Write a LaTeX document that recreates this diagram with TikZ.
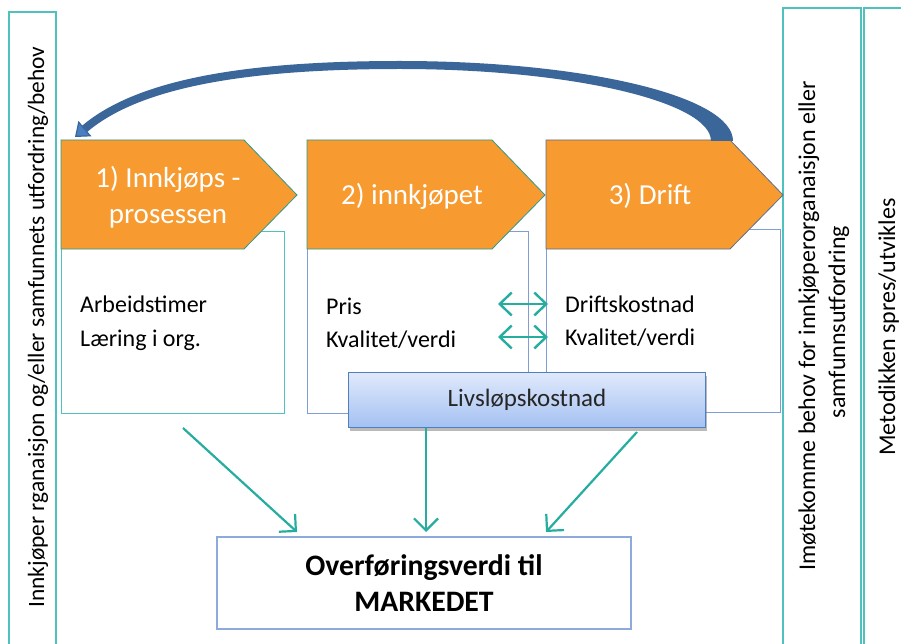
\documentclass[tikz,border=0pt]{standalone}
\usepackage{fontspec}
\setmainfont{Carlito}
\usetikzlibrary{arrows.meta,shadows}
\definecolor{orng}{HTML}{F79A2F}
\definecolor{outerteal}{HTML}{4FC1BE}
\definecolor{arrteal}{HTML}{25AEA0}
\definecolor{boxblue}{HTML}{7F9FD3}
\definecolor{botblue}{HTML}{8EAADB}
\definecolor{arcblue}{HTML}{3A6699}
\definecolor{headblue}{HTML}{4A7EC2}
\definecolor{lvtop}{HTML}{E0E9FB}
\definecolor{lvbot}{HTML}{A4C1F2}
\definecolor{lvborder}{HTML}{4F7FBF}
\definecolor{penteal}{HTML}{2E9A8A}
\definecolor{pengray}{HTML}{5C6F8C}
\tikzset{
  outerbox/.style={draw=outerteal, line width=1.3pt},
  pentshape/.style={fill=orng, line width=0.8pt},
  hdr/.style={text=white, font=\fontsize{29}{36}\selectfont, align=center, inner sep=0pt},
  sidetxt/.style={rotate=90, anchor=base, font=\fontsize{24}{30}\selectfont, inner sep=0pt},
  bodytxt/.style={anchor=base west, font=\fontsize{24}{27}\selectfont, inner sep=0pt},
  flow/.style={draw=arrteal, line width=2.2pt, -{Straight Barb[length=12pt,width=24pt,line width=2.2pt]}},
  dbl/.style={draw=arrteal, line width=2.4pt, {Straight Barb[length=12pt,width=23pt,line width=2.4pt]}-{Straight Barb[length=12pt,width=23pt,line width=2.4pt]}},
}
\begin{document}
\begin{tikzpicture}[x=1pt,y=-1pt]
\useasboundingbox (0,0) rectangle (901,644);
\fill[white] (0,0) rectangle (901,644);

% side boxes
\draw[outerbox] (9,12) rectangle (56,650);
\draw[outerbox] (783,8) rectangle (861,650);
\draw[outerbox] (864,8) rectangle (905,650);
\node[sidetxt, font=\fontsize{23.4}{28}\selectfont] (lefttxt) at (44,327) {Innkjøper rganaisjon og/eller samfunnets utfordring/behov};
\node[sidetxt] (righttxt1) at (815,326) {Imøtekomme behov for innkjøperorganaisjon eller};
\node[sidetxt] (righttxt2) at (845,322) {samfunnsutfordring};
\node[sidetxt] (metotxt) at (895,327) {Metodikken spres/utvikles};

% white boxes
\draw[draw=outerteal, line width=1pt] (61,232) rectangle (284,413);
\draw[draw=boxblue, line width=1pt] (307,232) rectangle (528,413);
\draw[draw=boxblue, line width=1pt] (546,230) rectangle (780,412);

% pentagons
\draw[pentshape, draw=penteal] (61,140) -- (244,140) -- (297,195) -- (244,249) -- (61,249) -- cycle;
\draw[pentshape, draw=penteal] (307,140) -- (492,140) -- (545,195) -- (492,249) -- (307,249) -- cycle;
\draw[pentshape, draw=pengray] (546,140) -- (730,140) -- (783,195) -- (730,249) -- (546,249) -- cycle;
\node[hdr] (h1) at (168,197) {1) Innkjøps -\\prosessen};
\node[hdr] (h2) at (412,196) {2) innkjøpet};
\node[hdr] (h3) at (650,196) {3) Drift};

% body texts
\node[bodytxt] (t1a) at (80,312) {Arbeidstimer};
\node[bodytxt] (t1b) at (80,346) {Læring i org.};
\node[bodytxt] (t2a) at (326,314) {Pris};
\node[bodytxt] (t2b) at (326,347) {Kvalitet/verdi};
\node[bodytxt] (t3a) at (565,312) {Driftskostnad};
\node[bodytxt] (t3b) at (565,345) {Kvalitet/verdi};

\coordinate (d1l) at (498,304);
\coordinate (d1r) at (548,304);
\coordinate (d2l) at (498,337);
\coordinate (d2r) at (548,337);
\draw[dbl] (d1l) -- (d1r);
\draw[dbl] (d2l) -- (d2r);

% Livslopskostnad
\node[draw=lvborder, line width=1.6pt, top color=lvtop, bottom color=lvbot,
      minimum width=357pt, minimum height=55pt, inner sep=0pt,
      drop shadow={shadow xshift=1.5pt, shadow yshift=-3pt, opacity=0.45, fill=black!60},
      font=\fontsize{25}{28}\selectfont, text=black!85] (lv) at (527,400) {Livsløpskostnad};

% bottom box
\node[draw=botblue, line width=1.2pt, minimum width=414pt, minimum height=92pt, align=center,
      font=\bfseries\fontsize{29.7}{36}\selectfont] (market) at (424,583) {Overføringsverdi til\\MARKEDET};

% flow arrows
\coordinate (s1) at (183,428);
\coordinate (e1) at (297,532);
\coordinate (e2) at (426,532);
\coordinate (s3) at (637,432);
\coordinate (e3) at (546,532);
\draw[flow] (s1) -- (e1);
\draw[flow] (lv.south -| e2) -- (e2);
\draw[flow] (s3) -- (e3);

% curved return arrow
\coordinate (arcstart) at (722,141);
\coordinate (arctop) at (400,65);
\coordinate (arcend) at (75,137);
\fill[arcblue] (733,141) .. controls (733,96) and (584,61) .. (400,61)
      -- (400,69) .. controls (572,69) and (711,102) .. (711,141) -- cycle;
\draw[arcblue, line width=8pt, -{Triangle[length=13pt,width=20pt,fill=headblue,color=arcblue,line width=1.2pt]}]
      (arctop) .. controls (250,65) and (140,82) .. (arcend);
\end{tikzpicture}
\end{document}
